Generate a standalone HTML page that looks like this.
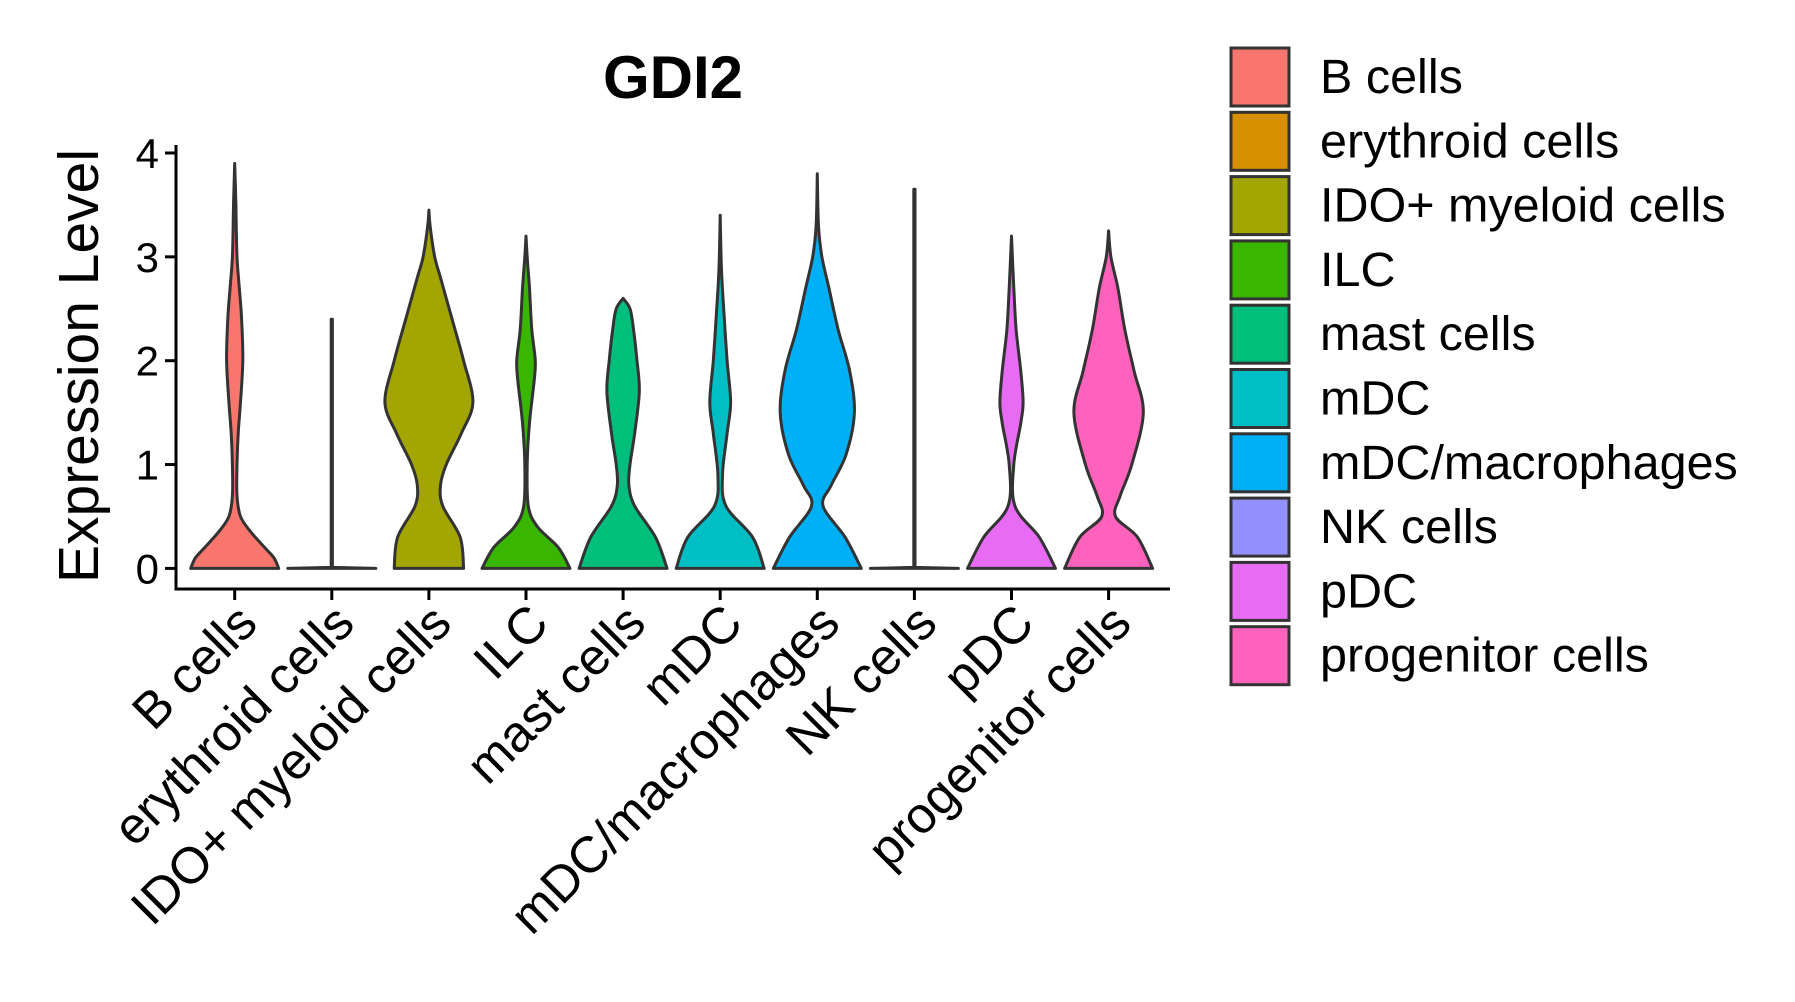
<!DOCTYPE html>
<html><head><meta charset="utf-8"><style>
html,body{margin:0;padding:0;background:#fff;}
svg{display:block;font-family:"Liberation Sans",Arial,sans-serif;}
</style></head><body>
<svg id="chart" width="1795" height="1002" viewBox="0 0 1795 1002">
<text x="673" y="98" font-size="60" font-weight="bold" text-anchor="middle">GDI2</text>
<text transform="translate(98,366) rotate(-90)" font-size="57" text-anchor="middle">Expression Level</text>
<g id="plot"></g>
<g id="legend"></g>
</svg>
<script>
const categories=["B cells","erythroid cells","IDO+ myeloid cells","ILC","mast cells","mDC","mDC/macrophages","NK cells","pDC","progenitor cells"];
const colors=["#F8766D","#D89000","#A3A500","#39B600","#00BF7D","#00BFC4","#00B0F6","#9590FF","#E76BF3","#FF62BC"];
const yTicks=[0,1,2,3,4];
const lvB=[0,0.1,0.2,0.35,0.5,0.7,1,1.3,1.6,2,2.4,2.7,3,3.5,3.9];
const dB=[38,34,26,14,5,2,2,3,5,7,6,4,2,1,0];
const lvEry=[0,0.01,2.4];
const dEry=[38,0.5,0.5];
const lvIDO=[0,0.3,0.6,0.8,1.0,1.3,1.6,2,2.4,2.8,3,3.3,3.45];
const dIDO=[30,27,12,10,15,28,38,30,20,10,5,1,0];
const lvILC=[0,0.2,0.4,0.6,1,1.4,1.8,2,2.3,2.7,3,3.2];
const dILC=[38,28,10,2,1,3,7,8,5,3,1,0];
const lvMast=[0,0.3,0.6,0.8,1,1.3,1.7,2,2.3,2.5,2.6];
const dMast=[38,28,10,5,6,10,14,12,9,6,0];
const lvMDC=[0,0.3,0.6,0.9,1.3,1.6,2,2.5,2.9,3.4];
const dMDC=[38,28,5,2,6,9,6,3,1,0];
const lvMac=[0,0.3,0.6,0.8,1.1,1.5,1.9,2.3,2.7,3,3.3,3.8];
const dMac=[38,24,5,12,25,32,28,18,10,4,1,0];
const lvNK=[0,0.01,3.65];
const dNK=[38,0.5,0.5];
const lvPDC=[0,0.3,0.6,1,1.4,1.6,1.9,2.3,2.7,3.2];
const dPDC=[38,24,3,2,8,10,8,4,2,0];
const lvProg=[0,0.3,0.5,0.7,1,1.5,1.9,2.3,2.7,3,3.25];
const dProg=[38,25,6,10,20,30,22,14,8,2,0];
const levels=[lvB,lvEry,lvIDO,lvILC,lvMast,lvMDC,lvMac,lvNK,lvPDC,lvProg];
const dens=[dB,dEry,dIDO,dILC,dMast,dMDC,dMac,dNK,dPDC,dProg];

const NS="http://www.w3.org/2000/svg";
const plot=document.getElementById('plot');
const y0=568.4,y4=153, xL=176, xR=1170, xAxisY=589;
const yS=v=>y0+(y4-y0)*v/4;
const xS=i=>234.7+i*97.1;
const wS=d=>d/38*44;
function mk(tag,attrs,parent){const e=document.createElementNS(NS,tag);for(const k in attrs)e.setAttribute(k,attrs[k]);parent.appendChild(e);return e;}
function smooth(pts){
  let s='M'+pts[0][0].toFixed(1)+','+pts[0][1].toFixed(1);
  if(pts.length<=3){for(let i=1;i<pts.length;i++)s+='L'+pts[i][0].toFixed(1)+','+pts[i][1].toFixed(1);return s;}
  for(let i=0;i<pts.length-1;i++){
    const p0=pts[Math.max(0,i-1)],p1=pts[i],p2=pts[i+1],p3=pts[Math.min(pts.length-1,i+2)];
    const c1=[p1[0]+(p2[0]-p0[0])/6,p1[1]+(p2[1]-p0[1])/6];
    const c2=[p2[0]-(p3[0]-p1[0])/6,p2[1]-(p3[1]-p1[1])/6];
    s+='C'+c1[0].toFixed(1)+','+c1[1].toFixed(1)+' '+c2[0].toFixed(1)+','+c2[1].toFixed(1)+' '+p2[0].toFixed(1)+','+p2[1].toFixed(1);
  }
  return s;
}

categories.forEach((c,i)=>{
  const cx=xS(i),lv=levels[i],d=dens[i];
  let right=[],left=[];
  for(let j=0;j<lv.length;j++)right.push([cx+wS(d[j]),yS(lv[j])]);
  for(let j=lv.length-1;j>=0;j--)left.push([cx-wS(d[j]),yS(lv[j])]);
  const path=smooth(right)+smooth(left).replace(/^M/,'L')+'Z';
  const p=mk('path',{d:path,fill:colors[i],stroke:'#333','stroke-width':3,'stroke-linejoin':'round'},plot);
  
  
  const t=mk('line',{x1:cx,x2:cx,y1:xAxisY,y2:xAxisY+11,stroke:'#000','stroke-width':3},plot);
  
  
  const lb=mk('text',{transform:`translate(${cx+25},${xAxisY+37}) rotate(-45)`,'font-size':51,'text-anchor':'end'},plot);
  lb.textContent=c;
  
  
});
const ax=mk('path',{d:`M${xL},${y4-8}V${xAxisY}H${xR}`,fill:'none',stroke:'#000','stroke-width':3},plot);


yTicks.forEach(v=>{
  const t=mk('line',{x1:xL-11,x2:xL,y1:yS(v),y2:yS(v),stroke:'#000','stroke-width':3},plot);
  
  
  const lb=mk('text',{x:xL-17,y:yS(v)+15,'font-size':42,'text-anchor':'end'},plot);
  lb.textContent=v;
  
  
});
const leg=document.getElementById('legend');
categories.forEach((c,i)=>{
  const y=48+i*64.3;
  const r=mk('rect',{x:1231,y:y,width:58,height:58,fill:colors[i],stroke:'#333','stroke-width':3},leg);
  
  
  const t=mk('text',{x:1320,y:y+45,'font-size':48.5},leg);
  t.textContent=c;
  
  
});
</script>
</body></html>
